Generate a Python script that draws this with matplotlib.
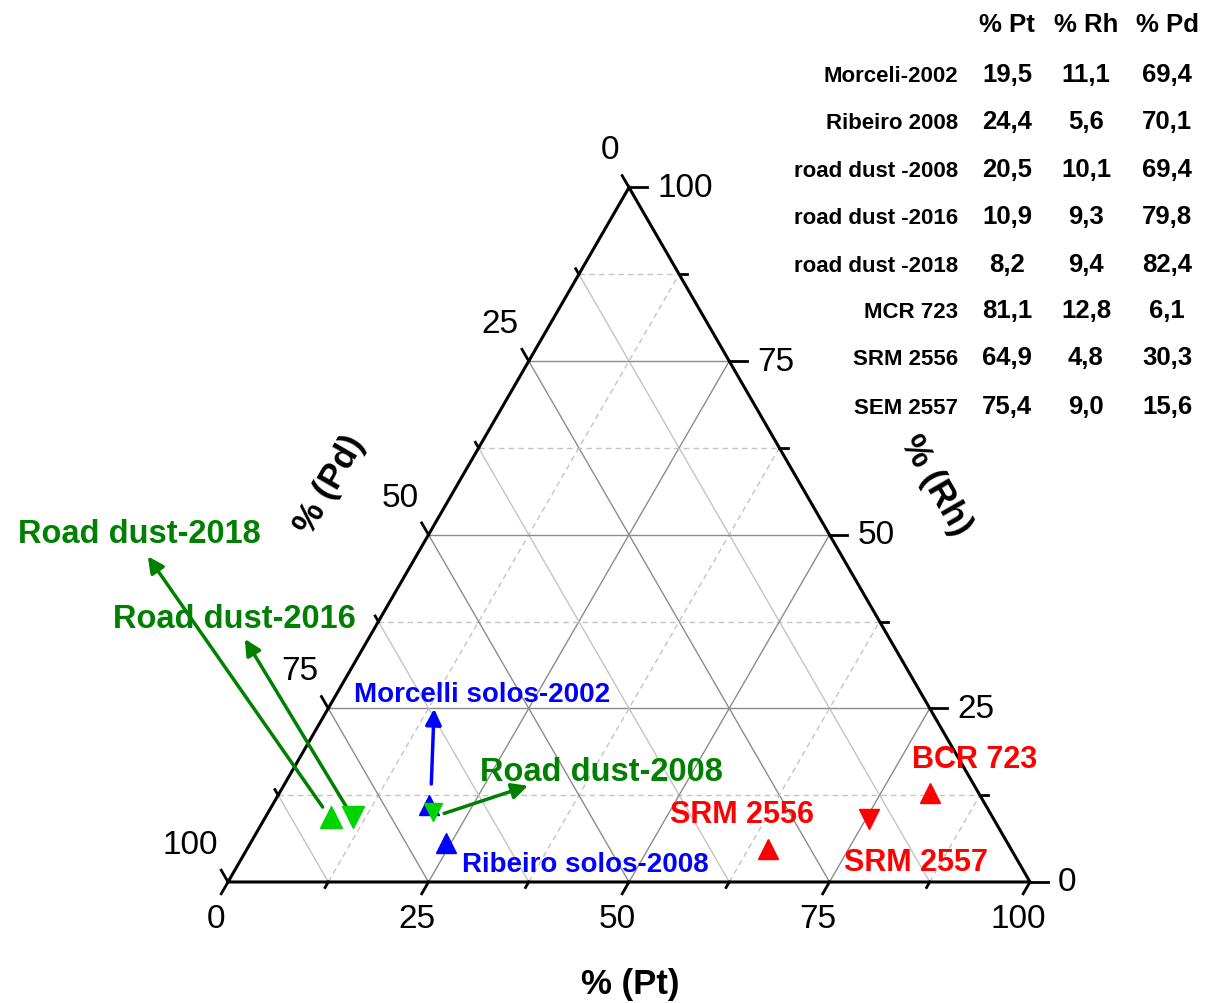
import numpy as np
import matplotlib
matplotlib.use("Agg")
import matplotlib.pyplot as plt

plt.rcParams['font.family'] = ['Liberation Sans', 'DejaVu Sans']

# Pt / Rh / Pd composition (%) of each sample
samples = ["Morceli-2002", "Ribeiro 2008", "road dust -2008", "road dust -2016",
           "road dust -2018", "MCR 723", "SRM 2556", "SEM 2557"]
pt = [19.5, 24.4, 20.5, 10.9, 8.2, 81.1, 64.9, 75.4]
rh = [11.1, 5.6, 10.1, 9.3, 9.4, 12.8, 4.8, 9.0]
pd = [69.4, 70.1, 69.4, 79.8, 82.4, 6.1, 30.3, 15.6]

markers = ['^', '^', 'v', 'v', '^', '^', '^', 'v']
colors = ['#0000ff', '#0000ff', '#00d400', '#00d400', '#00d400',
          '#ff0000', '#ff0000', '#ff0000']
sizes = [15, 15, 13, 16, 16, 15, 15, 15]

ticks = [0, 25, 50, 75, 100]

SQ = np.sqrt(3) / 2
GREEN = '#008000'
BLUE = '#0000ff'
RED = '#ff0000'


def tern(p, r):
    # Pt grows to the right, Rh to the top, Pd towards the lower left corner
    return p + r / 2.0, r * SQ


fig = plt.figure(figsize=(12.05, 10.04), dpi=100)
ax = fig.add_axes([0, 0, 1, 1])
ax.set_xlim(-28.43, 121.82)
ax.set_ylim(-15.09, 110.10)
ax.set_aspect('equal')
ax.axis('off')

# grid lines
for v in np.arange(12.5, 100, 12.5):
    major = v % 25 == 0
    gcol = '#8c8c8c' if major else '#c4c4c4'
    dash = '-' if major else (0, (4, 3))
    # constant Rh (horizontal)
    x0, y0 = tern(0, v)
    x1, y1 = tern(100 - v, v)
    ax.plot([x0, x1], [y0, y1], color=gcol, lw=1, ls=dash, zorder=1)
    # constant Pt
    x0, y0 = tern(v, 0)
    x1, y1 = tern(v, 100 - v)
    ax.plot([x0, x1], [y0, y1], color=gcol, lw=1, ls=dash, zorder=1)
    # constant Pd
    x0, y0 = tern(100 - v, 0)
    x1, y1 = tern(0, 100 - v)
    ax.plot([x0, x1], [y0, y1], color=gcol, lw=1, ls='-', zorder=1)

# triangle frame
corners = [tern(0, 0), tern(100, 0), tern(0, 100), tern(0, 0)]
ax.plot([c[0] for c in corners], [c[1] for c in corners], color='black',
        lw=2.2, solid_joinstyle='miter', zorder=3)

# ticks and tick labels
for v in np.arange(0, 100.1, 12.5):
    ln = 1.7 if v % 25 == 0 else 0.8
    # bottom axis (Pt)
    x, y = tern(v, 0)
    ax.plot([x, x - 0.5 * ln], [y, y - SQ * ln], color='black', lw=2, zorder=3)
    # left axis (Pd)
    x, y = tern(0, 100 - v)
    ax.plot([x, x - 0.5 * ln], [y, y + SQ * ln], color='black', lw=2, zorder=3)
    # right axis (Rh)
    x, y = tern(100 - v, v)
    ax.plot([x, x + ln * 1.3], [y, y], color='black', lw=2, zorder=3)

for v in ticks:
    x, y = tern(v, 0)
    ax.text(x - 1.5, y - 4.6, str(v), fontsize=24, ha='center', va='center')
    x, y = tern(0, 100 - v)
    ax.text(x - 1.25, y + 4.7, str(v), fontsize=24, ha='right', va='center')
    x, y = tern(100 - v, v)
    ax.text(x + 3.5, y, str(v), fontsize=24, ha='left', va='center')

# axis titles
ax.text(50.1, -12.7, '% (Pt)', fontsize=25, fontweight='bold',
        ha='center', va='center')
ax.text(12.7, 49.6, '% (Pd)', fontsize=25, fontweight='bold',
        ha='center', va='center', rotation=60)
ax.text(88.2, 49.6, '% (Rh)', fontsize=25, fontweight='bold',
        ha='center', va='center', rotation=-60)

# samples
for i in range(len(samples)):
    x, y = tern(pt[i], rh[i])
    ax.plot(x, y, marker=markers[i], color=colors[i], ms=sizes[i],
            ls='none', zorder=5)

# labels with arrows: (sample index, text, text pos, arrow head, tail offset)
labels = [
    (0, 'Morcelli solos-2002', (31.7, 23.4), (25.7, 21.6), (0.3, 2.6), BLUE, 20),
    (1, 'Ribeiro solos-2008', (44.5, 2.2), None, None, BLUE, 20),
    (2, 'Road dust-2008', (46.6, 13.8), (37.4, 12.0), (1.4, -0.2), GREEN, 23.5),
    (3, 'Road dust-2016', (0.75, 32.8), (2.1, 30.3), (-0.6, 1.0), GREEN, 23.5),
    (4, 'Road dust-2018', (-11.1, 43.4), (-10.0, 40.6), (-1.1, 1.2), GREEN, 23.5),
    (5, 'BCR 723', (93.1, 15.3), None, None, RED, 22),
    (6, 'SRM 2556', (64.1, 8.5), None, None, RED, 22),
    (7, 'SRM 2557', (85.8, 2.5), None, None, RED, 22),
]
for idx, txt, tpos, head, off, col, fs in labels:
    ax.text(tpos[0], tpos[1], txt, color=col, fontsize=fs, fontweight='bold',
            ha='center', va='center', zorder=6)
    if head is not None:
        x, y = tern(pt[idx], rh[idx])
        ax.annotate('', xy=head, xytext=(x + off[0], y + off[1]),
                    arrowprops=dict(arrowstyle='-|>', color=col, lw=2.5,
                                    mutation_scale=24, shrinkA=0, shrinkB=0),
                    zorder=4)

# composition table
W, H = 1205.0, 1004.0
col_x = [1007, 1086, 1167]
fig.text(col_x[0] / W, 1 - 25 / H, '% Pt', fontsize=18.5, fontweight='bold',
         ha='center', va='center')
fig.text(col_x[1] / W, 1 - 25 / H, '% Rh', fontsize=18.5, fontweight='bold',
         ha='center', va='center')
fig.text(col_x[2] / W, 1 - 25 / H, '% Pd', fontsize=18.5, fontweight='bold',
         ha='center', va='center')
row_y = [75, 122, 170, 217, 265, 311, 358, 407]
for i, name in enumerate(samples):
    yf = 1 - row_y[i] / H
    fig.text(958 / W, yf - 1.5 / H, name, fontsize=16, fontweight='bold',
             ha='right', va='center')
    for cx, val in zip(col_x, [pt[i], rh[i], pd[i]]):
        fig.text(cx / W, yf, f'{val:.1f}'.replace('.', ','), fontsize=18.5,
                 fontweight='bold', ha='center', va='center')

fig.savefig('out.png', dpi=100)
